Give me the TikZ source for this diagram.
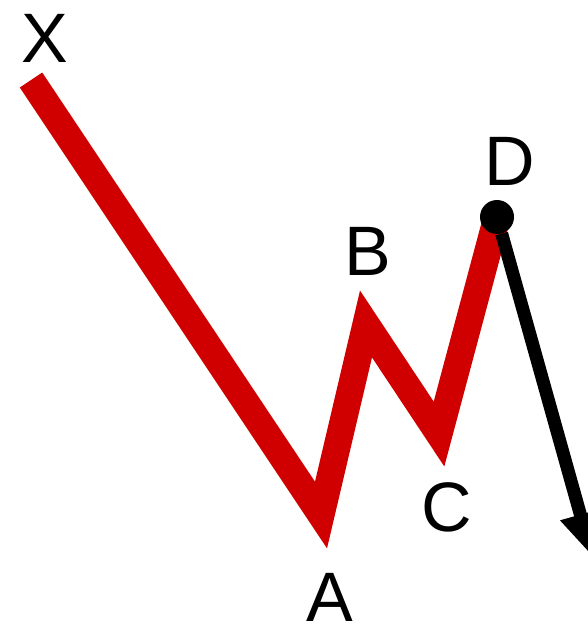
\documentclass[tikz,border=0pt]{standalone}
\usepackage{fontspec}
\setmainfont{Liberation Sans}
\usetikzlibrary{arrows.meta}
\definecolor{wvRed}{HTML}{D10000}

\begin{document}
\begin{tikzpicture}[x=1pt, y=-1pt,
  leg/.style={draw=wvRed, line width=27pt, line join=miter, line cap=butt},
  pt/.style={font=\fontsize{70}{70}\selectfont, anchor=base, inner sep=0pt},
  dot/.style={circle, fill=black, minimum size=34pt, inner sep=0pt},
  proj/.style={draw=black, line width=13pt, -{Triangle[length=43pt, width=39pt]}},
]
\useasboundingbox[fill=white] (0,0) rectangle (587,626);

% turning points of the pattern
\coordinate (x) at (31,80);
\coordinate (a) at (321,515);
\coordinate (b) at (366,324);
\coordinate (c) at (439,434);
\coordinate (d) at (497,217);
\coordinate (tgt) at (592,556);   % arrow tip, past the right edge

\draw[leg] (x) -- (a) -- (b) -- (c) -- (d);
\node[dot] (dpt) at (d) {};
\draw[proj] (dpt) -- (tgt);

% point labels
\node[pt] (lx) at (45,63) {X};
\node[pt] (la) at (330,621) {A};
\node[pt] (lb) at (368,275) {B};
\node[pt] (lc) at (447,531) {C};
\node[pt] (ld) at (510,185) {D};

\end{tikzpicture}
\end{document}
